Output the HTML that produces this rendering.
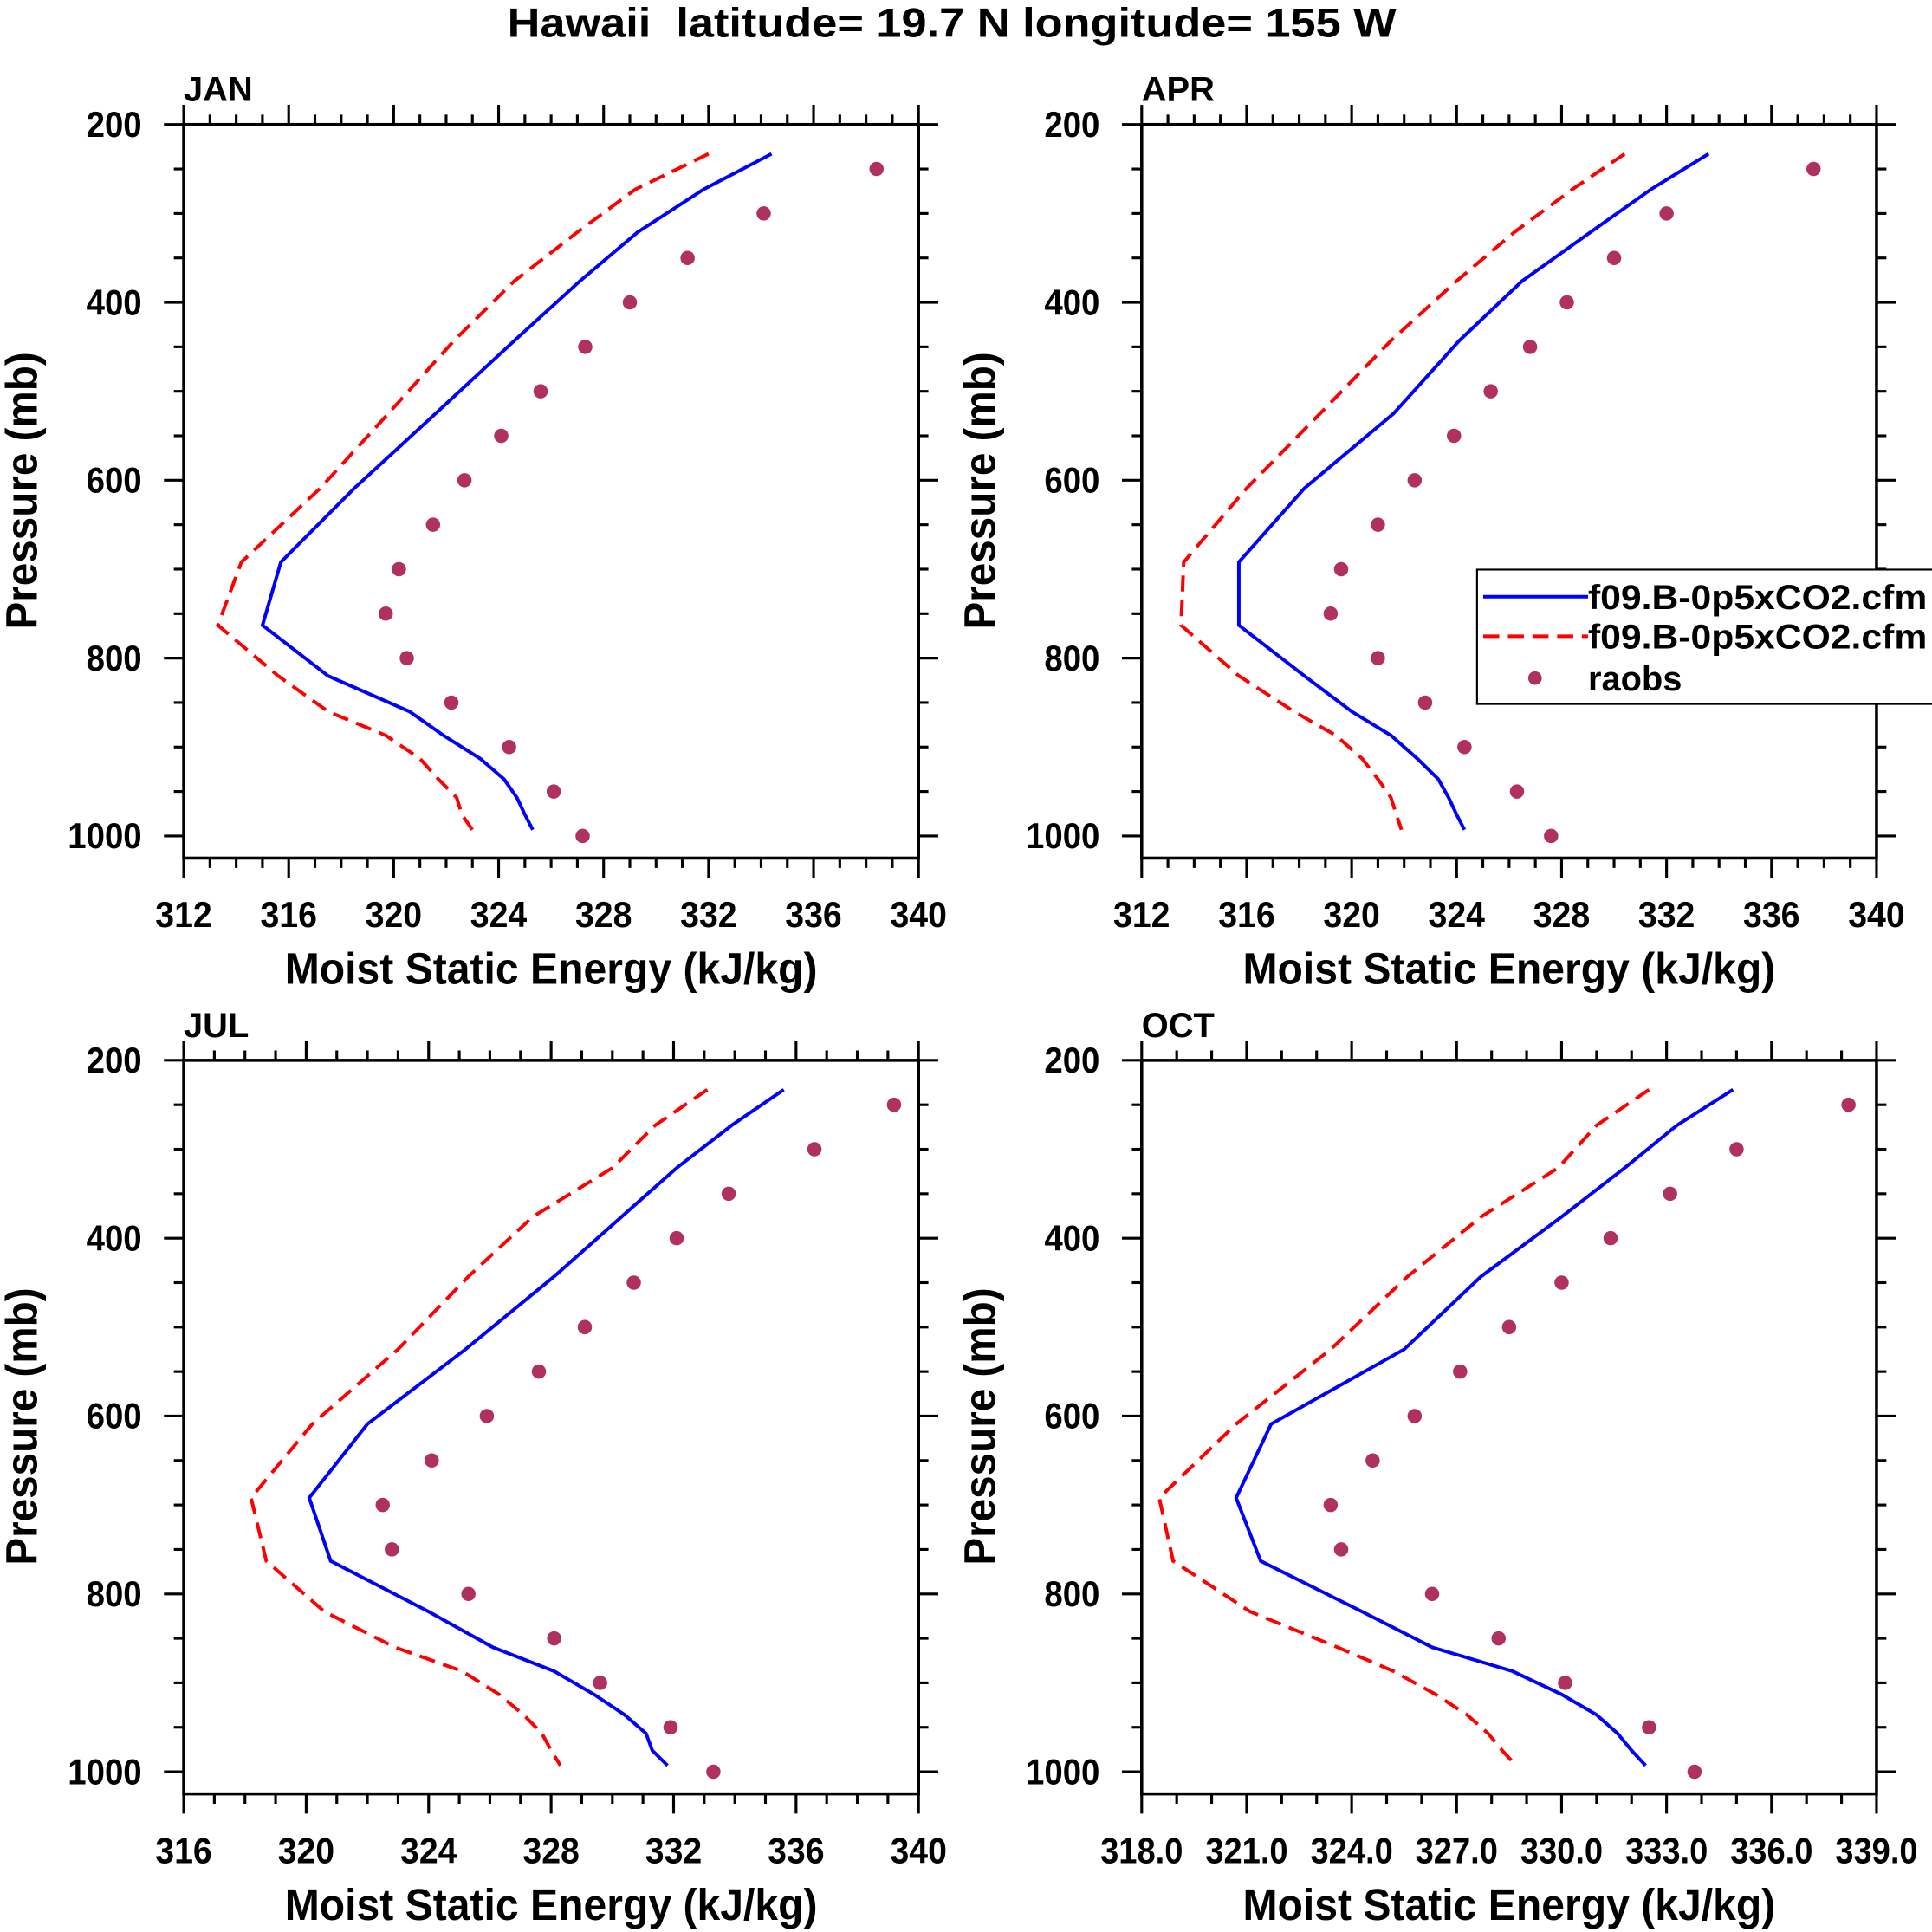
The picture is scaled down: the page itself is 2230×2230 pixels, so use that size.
<!DOCTYPE html>
<html><head><meta charset="utf-8"><style>html,body{margin:0;padding:0;background:#fff}svg{display:block}</style></head>
<body>
<svg id="fig" width="2230" height="2230" viewBox="0 0 1567 1567" xmlns="http://www.w3.org/2000/svg" font-family="Liberation Sans, Arial, sans-serif" font-weight="bold">
<rect x="0" y="0" width="1567" height="1567" fill="#fff"/>
<text x="772" y="30" font-size="33" text-anchor="middle" textLength="721" lengthAdjust="spacingAndGlyphs">Hawaii&#160; latitude= 19.7 N longitude= 155 W</text>
<g id="panels"></g>
<g>
<rect x="1198" y="462" width="380" height="109" fill="#fff" stroke="#000" stroke-width="1.5"/>
<line x1="1203" y1="484" x2="1288" y2="484" stroke="#0000ff" stroke-width="2.8"/>
<text x="1288" y="494" font-size="28" textLength="275" lengthAdjust="spacingAndGlyphs">f09.B-0p5xCO2.cfm</text>
<line x1="1203" y1="516" x2="1288" y2="516" stroke="#ff0000" stroke-width="2.8" stroke-dasharray="13,7"/>
<text x="1288" y="526" font-size="28" textLength="275" lengthAdjust="spacingAndGlyphs">f09.B-0p5xCO2.cfm</text>
<circle cx="1245" cy="550" r="5.5" fill="#b03060"/>
<text x="1288" y="560" font-size="28">raobs</text>
</g>
</svg>
<script>
const modelLevels = [233,273,321,376,443,525,609,692,763,820,860,887,913,936,957,976,993];
const obsLevels = [250,300,350,400,450,500,550,600,650,700,750,800,850,900,950,1000];

const janBlue = [334.4,331.8,329.3,327.1,324.6,321.6,318.5,315.7,315.0,317.5,320.6,321.9,323.3,324.2,324.7,325.0,325.3];
const janRed = [332.0,329.2,327.0,324.6,322.3,319.8,317.2,314.2,313.3,315.6,317.5,319.7,321.0,321.7,322.4,322.6,323.0];
const janObs = [338.4,334.1,331.2,329.0,327.3,325.6,324.1,322.7,321.5,320.2,319.7,320.5,322.2,324.4,326.1,327.2];

const aprBlue = [333.6,331.4,329.1,326.5,324.1,321.6,318.2,315.7,315.7,318.2,320.0,321.5,322.5,323.3,323.7,324.0,324.3];
const aprRed = [330.4,328.4,326.2,324.0,321.5,318.8,316.0,313.6,313.5,315.7,317.8,319.4,320.4,321.0,321.5,321.7,321.9];
const aprObs = [337.6,332.0,330.0,328.2,326.8,325.3,323.9,322.4,321.0,319.6,319.2,321.0,322.8,324.3,326.3,327.6];

const julBlue = [335.6,333.9,332.1,330.3,328.1,325.2,322.0,320.1,320.8,324.0,326.1,328.1,329.4,330.4,331.1,331.3,331.8];
const julRed = [333.1,331.4,330.0,327.4,325.3,323.0,320.2,318.2,318.7,320.6,322.9,325.1,326.3,327.1,327.7,328.0,328.3];
const julObs = [339.2,336.6,333.8,332.1,330.7,329.1,327.6,325.9,324.1,322.5,322.8,325.3,328.1,329.6,331.9,333.3];

const octBlue = [334.9,333.3,331.8,330.0,327.7,325.5,321.7,320.7,321.4,324.3,326.3,328.6,330.0,331.0,331.6,332.0,332.4];
const octRed = [332.5,331.0,329.9,327.7,325.6,323.4,320.7,318.5,318.9,321.1,323.6,325.2,326.4,327.3,327.9,328.3,328.7];
const octObs = [338.2,335.0,333.1,331.4,330.0,328.5,327.1,325.8,324.6,323.4,323.7,326.3,328.2,330.1,332.5,333.8];

const janTicks = [312,316,320,324,328,332,336,340];
const julTicks = [316,320,324,328,332,336,340];
const octTicks = [318,321,324,327,330,333,336,339];
const pTicks = [200,400,600,800,1000];

const NS = 'http://www.w3.org/2000/svg';
const root = document.getElementById('panels');
function mk(tag, attrs, parent){const e=document.createElementNS(NS,tag);for(const k in attrs)e.setAttribute(k,attrs[k]);(parent||root).appendChild(e);return e;}

function panel(cfg){
  const g = mk('g',{});
  
  
  const L=cfg.x0, R=cfg.x0+596, T=cfg.y0, B=cfg.y0+595;
  const xs = v => L + (v-cfg.xmin)/(cfg.xmax-cfg.xmin)*(R-L);
  const ys = p => T + (p-200)*0.7213;
  for(let v=cfg.xmin; v<=cfg.xmax+1e-6; v+=1){
    const major = cfg.ticks.some(t=>Math.abs(t-v)<1e-6);
    const len = major?16:8;
    const x=xs(v);
    mk('line',{x1:x,y1:B,x2:x,y2:B+len,stroke:'#000','stroke-width':2.2},g);
    mk('line',{x1:x,y1:T,x2:x,y2:T-len,stroke:'#000','stroke-width':2.2},g);
  }
  for(let p=200;p<=1000;p+=50){
    const major = p%200===0;
    const len = major?16:8;
    const y=ys(p);
    mk('line',{x1:L,y1:y,x2:L-len,y2:y,stroke:'#000','stroke-width':2.2},g);
    mk('line',{x1:R,y1:y,x2:R+len,y2:y,stroke:'#000','stroke-width':2.2},g);
  }
  const box = mk('rect',{x:L,y:T,width:R-L,height:B-T,fill:'none',stroke:'#000','stroke-width':2.5},g);
  
  
  cfg.ticks.forEach(t=>{
    const tx = mk('text',{x:xs(t),y:B+56,'font-size':29,'text-anchor':'middle'},g);
    if(cfg.fmt){tx.setAttribute('textLength',67);tx.setAttribute('lengthAdjust','spacingAndGlyphs');}
    else {tx.setAttribute('textLength',46);tx.setAttribute('lengthAdjust','spacingAndGlyphs');}
    tx.textContent = cfg.fmt? t.toFixed(1) : String(t);
    
    
  });
  pTicks.forEach(p=>{
    const s = String(p);
    const tx = mk('text',{x:L-34,y:ys(p)+10,'font-size':29,'text-anchor':'end',textLength:s.length*15,lengthAdjust:'spacingAndGlyphs'},g);
    tx.textContent = s;
    
    
  });
  const xt = mk('text',{x:(L+R)/2,y:B+102,'font-size':36,'text-anchor':'middle',textLength:432,lengthAdjust:'spacingAndGlyphs'},g);
  xt.textContent='Moist Static Energy (kJ/kg)';
  
  
  const yt = mk('text',{x:0,y:0,'font-size':36,'text-anchor':'middle',textLength:225,lengthAdjust:'spacingAndGlyphs',transform:`translate(${L-119},${T+297}) rotate(-90)`},g);
  yt.textContent='Pressure (mb)';
  
  
  const pl = mk('text',{x:L,y:T-19,'font-size':28},g);
  pl.textContent=cfg.label;
  
  
  const pts = a => a.map((v,i)=>xs(v).toFixed(1)+','+ys(modelLevels[i]).toFixed(1)).join(' ');
  const rl = mk('polyline',{points:pts(cfg.red),fill:'none',stroke:'#ff0000','stroke-width':2.8,'stroke-dasharray':'13,7'},g);
  
  
  const bl = mk('polyline',{points:pts(cfg.blue),fill:'none',stroke:'#0000ff','stroke-width':2.8},g);
  
  
  cfg.obs.forEach((v,i)=>{
    const c = mk('circle',{cx:xs(v),cy:ys(obsLevels[i]),r:5.8,fill:'#b03060'},g);
    
    
  });
}
panel({key:'jan',label:'JAN',x0:149,y0:101,xmin:312,xmax:340,ticks:janTicks,blue:janBlue,red:janRed,obs:janObs});
panel({key:'apr',label:'APR',x0:926,y0:101,xmin:312,xmax:340,ticks:janTicks,blue:aprBlue,red:aprRed,obs:aprObs});
panel({key:'jul',label:'JUL',x0:149,y0:860,xmin:316,xmax:340,ticks:julTicks,blue:julBlue,red:julRed,obs:julObs});
panel({key:'oct',label:'OCT',x0:926,y0:860,xmin:318,xmax:339,ticks:octTicks,blue:octBlue,red:octRed,obs:octObs,fmt:true});
</script>
</body></html>
